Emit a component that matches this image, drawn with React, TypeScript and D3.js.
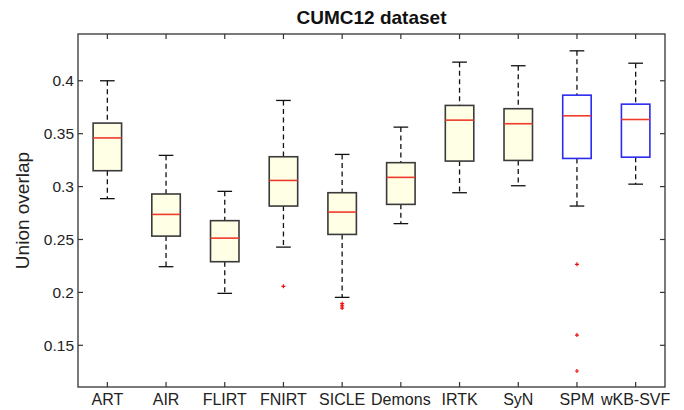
import React from 'react';
import * as d3 from 'd3';

// Values
const methods = ['ART', 'AIR', 'FLIRT', 'FNIRT', 'SICLE', 'Demons', 'IRTK', 'SyN', 'SPM', 'wKB-SVF'];
const lowerWhisker = [0.2886, 0.2243, 0.1991, 0.2428, 0.1953, 0.265, 0.2942, 0.3008, 0.2816, 0.3023];
const q1 = [0.315, 0.2532, 0.229, 0.2816, 0.2548, 0.2832, 0.3241, 0.3247, 0.3266, 0.3278];
const medians = [0.346, 0.2737, 0.2513, 0.3058, 0.2759, 0.3087, 0.3628, 0.3594, 0.3669, 0.3634];
const q3 = [0.36, 0.293, 0.2678, 0.3282, 0.2942, 0.3226, 0.3767, 0.3736, 0.3864, 0.3779];
const upperWhisker = [0.4, 0.3295, 0.2955, 0.3814, 0.3304, 0.3562, 0.4176, 0.4142, 0.4283, 0.4166];
const outliers = [[], [], [], [0.2057], [0.1894, 0.1872, 0.1852], [], [], [], [0.2265, 0.1597, 0.1257], []];
const blueBoxes = ['SPM', 'wKB-SVF'];
const yTicks = [0.15, 0.2, 0.25, 0.3, 0.35, 0.4];

const W = 684;
const H = 410;
const margin = { left: 78, right: 19, top: 34, bottom: 23 };

export default function App() {
    const x = d3.scaleLinear()
        .domain([0.5, methods.length + 0.5])
        .range([margin.left, W - margin.right]);
    const y = d3.scaleLinear()
        .domain([0.1106, 0.4442])
        .range([H - margin.bottom, margin.top]);

    const step = x(2) - x(1);
    const boxW = step * 0.485;
    const capW = step * 0.25;
    const font = 'Liberation Sans, Arial, Helvetica, sans-serif';
    const axisColor = '#333';
    const [y0, y1] = y.range();
    const [x0, x1] = x.range();

    return (
        <svg width={W} height={H} style={{ position: 'absolute', left: 0, top: 0 }} fontFamily={font}>
            <rect x={0} y={0} width={W} height={H} fill="#fff" />
            <text x={(x0 + x1) / 2} y={24} textAnchor="middle" fontSize={19} fontWeight="bold" fill="#111">
                CUMC12 dataset
            </text>
            <text
                transform={`translate(29, ${(y0 + y1) / 2}) rotate(-90)`}
                textAnchor="middle"
                fontSize={19}
                fill="#222"
            >
                Union overlap
            </text>

            {/* boxes */}
            {methods.map((m, i) => {
                const cx = x(i + 1);
                const blue = blueBoxes.includes(m);
                const edge = blue ? '#2b2bf0' : '#3a3a3a';
                return (
                    <g key={m}>
                        <line x1={cx} x2={cx} y1={y(upperWhisker[i])} y2={y(q3[i])}
                            stroke="#111" strokeWidth={1.3} strokeDasharray="5,3.5" />
                        <line x1={cx} x2={cx} y1={y(q1[i])} y2={y(lowerWhisker[i])}
                            stroke="#111" strokeWidth={1.3} strokeDasharray="5,3.5" />
                        <line x1={cx - capW / 2} x2={cx + capW / 2} y1={y(upperWhisker[i])} y2={y(upperWhisker[i])}
                            stroke="#111" strokeWidth={1.3} />
                        <line x1={cx - capW / 2} x2={cx + capW / 2} y1={y(lowerWhisker[i])} y2={y(lowerWhisker[i])}
                            stroke="#111" strokeWidth={1.3} />
                        <rect x={cx - boxW / 2} y={y(q3[i])} width={boxW} height={y(q1[i]) - y(q3[i])}
                            fill={blue ? '#fff' : '#ffffe6'} stroke={edge} strokeWidth={1.6} />
                        <line x1={cx - boxW / 2} x2={cx + boxW / 2} y1={y(medians[i])} y2={y(medians[i])}
                            stroke="#ee3a2a" strokeWidth={1.6} />
                        {outliers[i].map((v, j) => (
                            <path key={j} d={`M${cx - 2},${y(v)}h4M${cx},${y(v) - 2}v4`}
                                stroke="#f01010" strokeWidth={1.2} />
                        ))}
                    </g>
                );
            })}

            {/* axes frame */}
            <rect x={x0} y={y1} width={x1 - x0} height={y0 - y1} fill="none" stroke={axisColor} strokeWidth={1.3} />
            {yTicks.map((t) => (
                <g key={t}>
                    <line x1={x0} x2={x0 + 5} y1={y(t)} y2={y(t)} stroke={axisColor} strokeWidth={1.2} />
                    <line x1={x1} x2={x1 - 5} y1={y(t)} y2={y(t)} stroke={axisColor} strokeWidth={1.2} />
                    <text x={x0 - 4} y={y(t)} dy="0.35em" textAnchor="end" fontSize={15.5} fill="#222">
                        {d3.format('')(t)}
                    </text>
                </g>
            ))}
            {methods.map((m, i) => (
                <g key={m}>
                    <line x1={x(i + 1)} x2={x(i + 1)} y1={y0} y2={y0 - 5} stroke={axisColor} strokeWidth={1.2} />
                    <line x1={x(i + 1)} x2={x(i + 1)} y1={y1} y2={y1 + 5} stroke={axisColor} strokeWidth={1.2} />
                    <text x={x(i + 1)} y={405} textAnchor="middle" fontSize={16} fill="#222">{m}</text>
                </g>
            ))}
        </svg>
    );
}
